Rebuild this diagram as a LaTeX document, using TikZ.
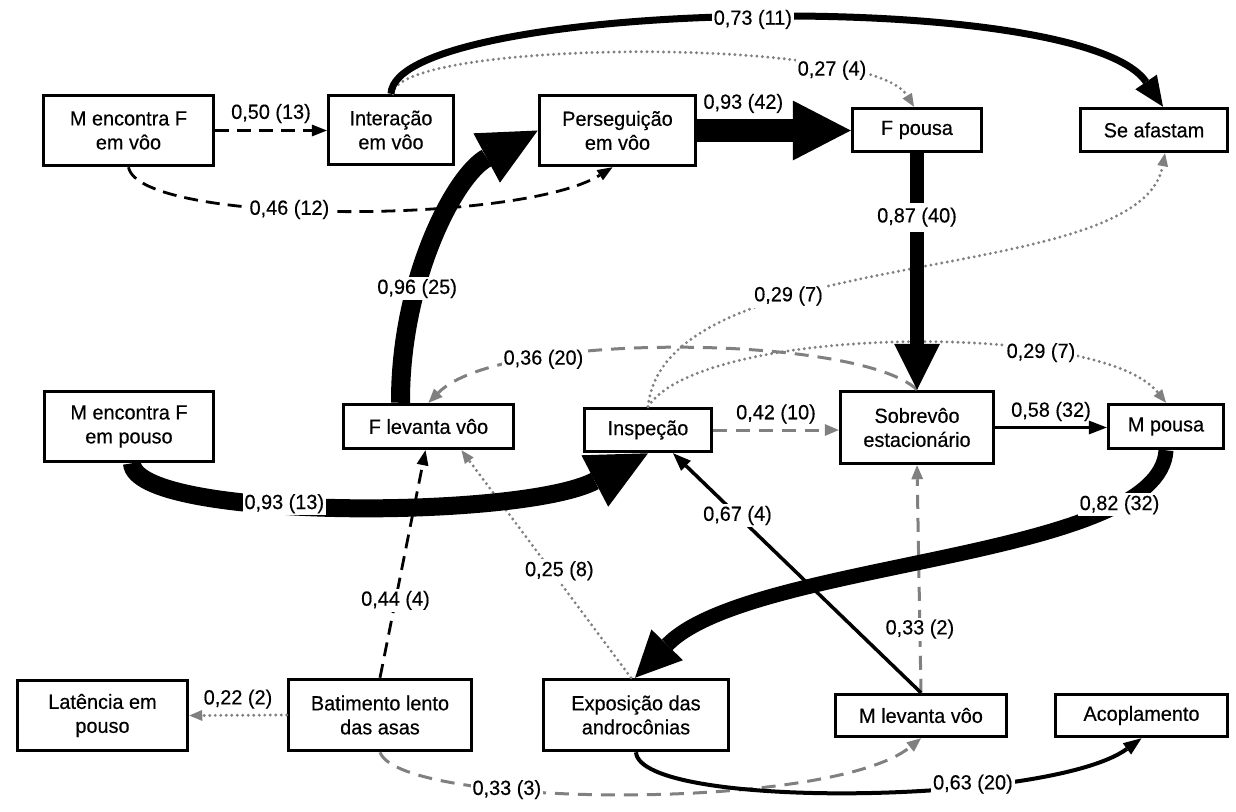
\documentclass[tikz,border=0pt]{standalone}
\usepackage{fontspec}
\setmainfont{Liberation Sans}[FakeStretch=0.97, FakeBold=0.4]
\usetikzlibrary{arrows.meta}

\begin{document}
\begin{tikzpicture}[x=1pt, y=-1pt,
  box/.style={draw, line width=3.5pt, fill=white, align=center, inner sep=0pt,
    font=\fontsize{20.5}{24}\selectfont},
  lbl/.style={fill=white, text=black, inner sep=2pt, font=\fontsize{20.5}{24}\selectfont},
  dsh/.style={dash pattern=on 14pt off 8pt, line width=2.8pt,
    -{Triangle[length=15pt,width=12pt,line width=0pt]}},
  gdsh/.style={gray, dash pattern=on 14pt off 9pt, line width=3pt,
    -{Triangle[length=14pt,width=12pt,line width=0pt]}},
  dotline/.style={gray, dash pattern=on 0pt off 5.5pt, line cap=round, line width=3.2pt,
    -{Triangle[length=13pt,width=11pt,line width=0pt]}},
  thin/.style={line width=3.5pt, -{Triangle[length=18pt,width=14pt,line width=0pt]}}]
  % Fix the frame of the picture
  \fill[white] (0,0) rectangle (1236,811);
  \useasboundingbox (0,0) rectangle (1236,811);
  % Draw the boxes
  \foreach \name/\x/\y/\w/\h/\txt in {
      MvF/128.5/130.5/170/70/{M encontra F\\em vôo},
      Int/391/130/125/69/{Interação\\em vôo},
      Pers/617.5/130.5/156/70/{Perseguição\\em vôo},
      Fpo/917/130/129/43/{F pousa},
      Afa/1154/130/147/43/{Se afastam},
      MpF/129/426.5/169/70/{M encontra F\\em pouso},
      Flev/428.5/426.5/170/44/{F levanta vôo},
      Insp/648/430/127/43/{Inspeção},
      Sobr/917/427.5/153/72/{Sobrevôo\\estacionário},
      Mpo/1166/426.5/115/44/{M pousa},
      Lat/102.5/715.5/170/70/{Latência em\\pouso},
      Bat/380/715/183/71/{Batimento lento\\das asas},
      Exp/636/715/185/71/{Exposição das\\androcônias},
      Mlev/921/715.5/171/42/{M levanta vôo},
      Acop/1141.5/715.5/172/42/{Acoplamento}} {
    \node[box, minimum width=\w, minimum height=\h] (\name) at (\x,\y) {\txt};
  }
  % Gray transitions
  \draw[dotline] ([xshift=2pt]Int.north) .. controls (395,40) and (870,35) .. ([xshift=-3pt]Fpo.north)
    node[lbl, pos=0.78] {0,27 (4)};
  \draw[dotline] (Insp.north) .. controls (665,240) and (1140,290) .. ([xshift=11pt]Afa.south)
    node[lbl, pos=0.34] {0,29 (7)};
  \draw[dotline] (Insp.north) .. controls (700,325) and (1100,320) .. (Mpo.north)
    node[lbl, pos=0.71] {0,29 (7)};
  \draw[dotline] ([xshift=-5pt]Exp.north) -- ([xshift=33pt]Flev.south)
    node[lbl, pos=0.47, xshift=8pt] {0,25 (8)};
  \draw[dotline] (Bat.west) -- (Lat.east) node[lbl, midway, above=3pt, fill=none] {0,22 (2)};
  \draw[gdsh] (Sobr.north) .. controls (860,335) and (500,330) .. (Flev.north)
    node[lbl, pos=0.72] {0,36 (20)};
  \draw[gdsh] (Insp.east) -- (Insp.east -| Sobr.west)
    node[lbl, midway, above=3pt, fill=none] {0,42 (10)};
  \draw[gdsh] (Mlev.north) -- (Sobr.south) node[lbl, pos=0.28] {0,33 (2)};
  \draw[gdsh] (Bat.south) .. controls (400,808) and (830,812) .. (Mlev.south)
    node[lbl, pos=0.33] {0,33 (3)};
  % Black transitions
  \draw[dsh] (MvF.east) -- (MvF.east -| Int.west) node[lbl, midway, above=4pt, fill=none] {0,50 (13)};
  \draw[dsh] (MvF.south) .. controls (140,225) and (520,225) .. ([xshift=-5pt]Pers.south)
    node[lbl, pos=0.42] {0,46 (12)};
  \draw[dsh] (Bat.north) -- ([xshift=-3pt]Flev.south) node[lbl, pos=0.34] {0,44 (4)};
  \draw[thin] (Mlev.north) -- ([xshift=25pt]Insp.south) node[lbl, pos=0.74] {0,67 (4)};
  \draw[thin, line width=3pt] (Sobr.east) -- (Sobr.east -| Mpo.west)
    node[lbl, midway, above=3pt, fill=none] {0,58 (32)};
  \draw[thin, line width=4pt] (Exp.south) .. controls (640,810) and (1050,805) .. (Acop.south)
    node[lbl, pos=0.67] {0,63 (20)};
  % Thick transitions
  \draw[line width=7pt, -{Triangle[length=30pt,width=26pt,line width=0pt]}]
    (Int.north) .. controls (395,0) and (1080,-15) .. ([xshift=9pt]Afa.north)
    node[lbl, pos=0.505] {0,73 (11)};
  \draw[line width=23pt, -{Triangle[length=58pt,width=60pt,line width=0pt]}]
    (Pers.east) -- (Pers.east -| Fpo.west) node[lbl, pos=0.3, above=4pt, fill=none] {0,93 (42)};
  \draw[line width=14pt, -{Triangle[length=46pt,width=46pt,line width=0pt]}]
    (Fpo.south) -- (Sobr.north) node[lbl, pos=0.27, inner sep=5pt] {0,87 (40)};
  \draw[line width=19pt, -{Triangle[length=58pt,width=56pt,line width=0pt]}]
    ([xshift=-28pt]Flev.north) .. controls (400,280) and (455,175) .. (Pers.west)
    node[lbl, pos=0.33] {0,96 (25)};
  \draw[line width=18pt, -{Triangle[length=60pt,width=58pt,line width=0pt]}]
    ([xshift=3pt]MpF.south) .. controls (135,520) and (520,520) .. (Insp.south)
    node[lbl, pos=0.41] {0,93 (13)};
  \draw[line width=15pt, -{Triangle[length=46pt,width=44pt,line width=0pt]}]
    (Mpo.south) .. controls (1160,560) and (750,560) .. ([xshift=-1pt]Exp.north)
    node[lbl, pos=0.2] {0,82 (32)};
\end{tikzpicture}
\end{document}
